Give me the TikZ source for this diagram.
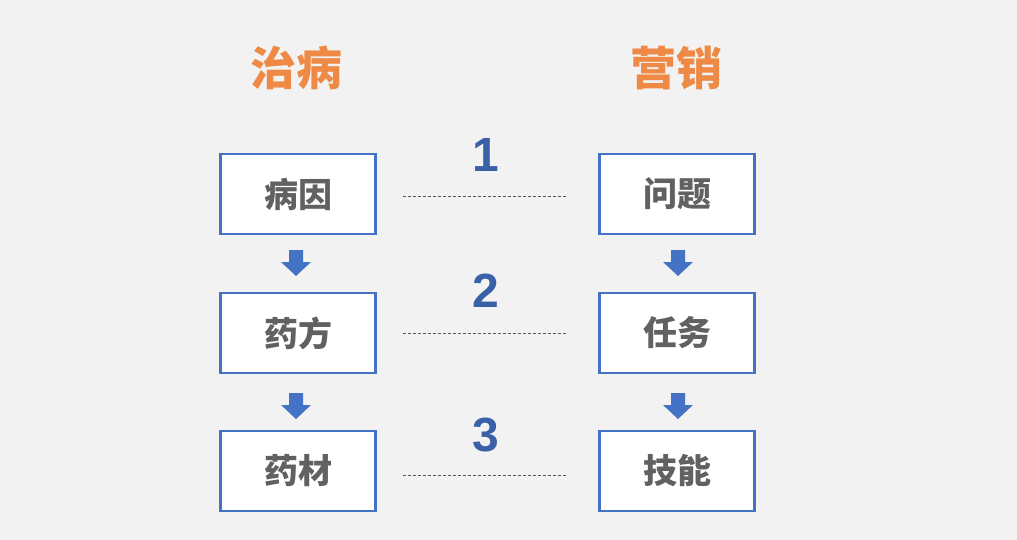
\documentclass[tikz,border=0pt]{standalone}
\usepackage{fontspec}
\newfontfamily\cjk{Noto Sans CJK SC}
\newfontfamily\lsans{Liberation Sans}
\begin{document}
\begin{tikzpicture}[x=1pt,y=-1pt]
\definecolor{bx}{HTML}{4472C4}
\definecolor{tc}{HTML}{EE8A45}
\tikzset{
 box/.style={draw=bx,line width=2.2pt,fill=white,minimum width=155pt,minimum height=80pt,font=\cjk\fontsize{34}{36}\selectfont\bfseries,text=black!62},
 ttl/.style={font=\cjk\fontsize{46}{48}\selectfont\bfseries,text=tc},
 num/.style={font=\lsans\fontsize{48}{50}\selectfont\bfseries,text=bx!85!black},
 dl/.style={dash pattern=on 3pt off 2pt,draw=black!65,line width=0.8pt}}
\fill[black!5] (0,0) rectangle (1017,540);
\node[ttl] (t1) at (296,68) {治病};
\node[ttl] (t2) at (676,68) {营销};
\node[box] (a1) at (298,194) {病因};
\node[box] (a2) at (298,333) {药方};
\node[box] (a3) at (298,471) {药材};
\node[box] (b1) at (677,194) {问题};
\node[box] (b2) at (677,333) {任务};
\node[box] (b3) at (677,471) {技能};
\node[num] (n1) at (486,155) {1};
\node[num] (n2) at (486,291) {2};
\node[num] (n3) at (486,435) {3};
\draw[dl] (a1.east)++(26,2) coordinate (p1) -- ++(165,0) coordinate (q1);
\draw[dl] (a2.east)++(26,0) coordinate (p2) -- ++(165,0) coordinate (q2);
\draw[dl] (a3.east)++(26,4) coordinate (p3) -- ++(165,0) coordinate (q3);
\foreach \x/\y in {296/250,296/393,678/250,678/393}{
 \fill[bx] (\x-7,\y) -- (\x+7,\y) -- (\x+7,\y+12) -- (\x+15,\y+12) -- (\x,\y+26) -- (\x-15,\y+12) -- (\x-7,\y+12) -- cycle;}
\end{tikzpicture}
\end{document}
